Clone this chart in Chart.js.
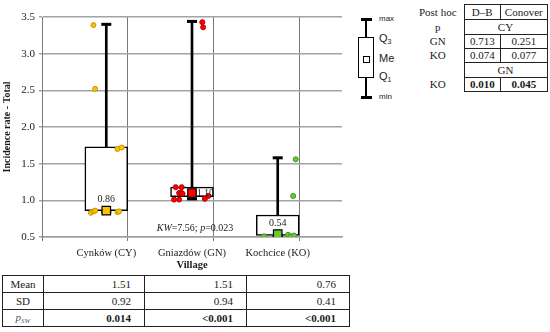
<!DOCTYPE html>
<html>
<head>
<meta charset="utf-8">
<script src="https://cdn.jsdelivr.net/npm/chart.js@4"></script>
<style>
  body { margin: 0; background: #fff; }
  #wrap { position: relative; width: 550px; height: 332px; overflow: hidden; font-family: "Liberation Serif", serif; color: #1a1a1a; }
  #chart { position: absolute; left: 0; top: 0; }
  #kw { position: absolute; left: 145px; width: 100px; top: 221px; text-align: center; font-size: 10px; line-height: 14px; }
  .lg { position: absolute; background: #000; }
  .lgt { position: absolute; left: 379px; font-family: "Liberation Sans", sans-serif; color: #222; line-height: 1; transform: translateY(-50%); }
  .lgt sub { font-size: 7px; vertical-align: -2px; }
  table { position: absolute; border-collapse: collapse; table-layout: fixed; font-size: 11px; line-height: 1; }
  td { padding: 0; white-space: nowrap; }
  #posthoc { left: 412px; top: 4px; }
  #posthoc td { text-align: center; border: 1px solid #222; }
  #posthoc td.lab { border: none; }
  #stats { left: 2px; top: 275px; }
  #stats td { border: 1px solid #222; text-align: right; padding-right: 13px; height: 16px; }
  #stats td.lab { text-align: center; padding-right: 0; }
  #stats sub { font-size: 7px; vertical-align: -2px; }
</style>
</head>
<body>
<div id="wrap">
  <canvas id="chart" width="350" height="275"></canvas>
  <div id="kw"></div>
  <div id="legendBox"></div>
  <table id="posthoc"></table>
  <table id="stats"></table>
</div>
<script>
// box plot summaries per village
const villages = ['Cynków (CY)', 'Gniazdów (GN)', 'Kochcice (KO)'];
const minVals = [0.84, 1.02, 0.51];
const q1Vals = [0.86, 1.05, 0.52];
const medVals = [0.86, 1.10, 0.54];
const q3Vals = [1.73, 1.18, 0.80];
const maxVals = [3.40, 3.44, 1.58];

// raw observations (jitter = horizontal offset from the box centre, in category units)
const cyValues = [3.39, 2.52, 1.70, 1.72, 0.83, 0.85, 0.86, 0.84, 0.85];
const cyJitter = [-0.15, -0.13, 0.13, 0.18, -0.18, -0.15, -0.13, 0.13, 0.15];
const gnValues = [3.43, 3.36, 1.18, 1.18, 1.10, 1.11, 1.09, 1.01, 1.01, 1.02, 1.06];
const gnJitter = [0.12, 0.13, -0.19, -0.12, -0.15, -0.13, -0.11, -0.21, -0.15, 0.15, 0.19];
const koValues = [1.56, 1.06, 0.51, 0.53, 0.51, 0.52];
const koJitter = [0.21, 0.18, -0.16, 0.12, 0.15, 0.19];

const yMin = 0.5, yMax = 3.5, yStep = 0.5;

// test results
const kwStat = '7.56';
const kwP = '0.023';
const meanVals = ['1.51', '1.51', '0.76'];
const sdVals = ['0.92', '0.94', '0.41'];
const pSwVals = ['0.014', '<0.001', '<0.001'];
const pairLabels = [['CY', 'GN'], ['CY', 'KO'], ['GN', 'KO']];
const dbVals = ['0.713', '0.074', '0.010'];
const conoverVals = ['0.251', '0.077', '0.045'];

// styles
const fillColors = ['#FFC000', '#FF0000', '#66CC33'];
const edgeColors = ['#C99700', '#B80000', '#3E9420'];
const labelSide = ['above', 'right', 'above'];

function jittered(values, jitter, idx) {
    return values.map((v, i) => ({ x: idx + 1 + jitter[i], y: v }));
}

const medianLabels = {
    id: 'medianLabels',
    afterDatasetsDraw(chart) {
        const { ctx, scales: { x, y } } = chart;
        ctx.save();
        ctx.fillStyle = '#1a1a1a';
        medVals.forEach((v, i) => {
            const px = x.getPixelForValue(i + 1);
            const py = y.getPixelForValue(v);
            if (labelSide[i] === 'right') {
                ctx.font = '9.5px "Liberation Serif"';
                ctx.textAlign = 'left';
                ctx.textBaseline = 'middle';
                ctx.fillText(v.toFixed(2), px + 5, py);
            } else {
                ctx.font = '10px "Liberation Serif"';
                ctx.textAlign = 'center';
                ctx.textBaseline = 'bottom';
                ctx.fillText(v.toFixed(2), px, py - 6);
            }
        });
        ctx.restore();
    }
};

const halfColor = (c, col) => (c.tick && c.tick.value % 1 !== 0 ? col : 'transparent');

new Chart(document.getElementById('chart'), {
    type: 'scatter',
    data: {
        datasets: [
            {
                label: 'median',
                data: medVals.map((v, i) => ({ x: i + 1, y: v })),
                pointStyle: 'rect',
                radius: 6,
                backgroundColor: fillColors,
                borderColor: '#000',
                borderWidth: 1.2,
                order: 0
            },
            {
                label: 'CY',
                data: jittered(cyValues, cyJitter, 0),
                radius: 2.5,
                backgroundColor: fillColors[0],
                borderColor: edgeColors[0],
                borderWidth: 1,
                order: 1
            },
            {
                label: 'GN',
                data: jittered(gnValues, gnJitter, 1),
                radius: 2.5,
                backgroundColor: fillColors[1],
                borderColor: edgeColors[1],
                borderWidth: 1,
                order: 1
            },
            {
                label: 'KO',
                data: jittered(koValues, koJitter, 2),
                radius: 2.5,
                backgroundColor: fillColors[2],
                borderColor: edgeColors[2],
                borderWidth: 1,
                order: 1
            },
            {
                label: 'caps',
                data: maxVals.map((v, i) => ({ x: i + 1, y: v }))
                    .concat(minVals.map((v, i) => ({ x: i + 1, y: v }))),
                pointStyle: 'line',
                radius: 5,
                borderColor: '#000',
                borderWidth: 3,
                order: 2
            },
            {
                type: 'bar',
                label: 'box',
                data: q1Vals.map((v, i) => ({ x: i + 1, y: [v, q3Vals[i]] })),
                backgroundColor: '#fff',
                borderColor: '#000',
                borderWidth: 1.5,
                borderSkipped: false,
                grouped: false,
                categoryPercentage: 1,
                barPercentage: 1,
                maxBarThickness: 47,
                order: 3
            },
            {
                type: 'bar',
                label: 'whisker',
                data: q3Vals.map((v, i) => ({ x: i + 1, y: [v, maxVals[i]] }))
                    .concat(minVals.map((v, i) => ({ x: i + 1, y: [v, q1Vals[i]] }))),
                backgroundColor: '#000',
                borderWidth: 0,
                grouped: false,
                categoryPercentage: 1,
                barPercentage: 1,
                maxBarThickness: 2,
                order: 4
            }
        ]
    },
    options: {
        responsive: false,
        animation: false,
        devicePixelRatio: 1,
        layout: { padding: { top: 17, right: 2, left: 0, bottom: 0 } },
        plugins: { legend: { display: false }, tooltip: { enabled: false } },
        scales: {
            x: {
                type: 'linear',
                min: 0.5,
                max: 3.5,
                afterFit: (s) => { s.height = 38; },
                ticks: {
                    stepSize: 0.5,
                    autoSkip: false,
                    maxRotation: 0,
                    minRotation: 0,
                    padding: 6,
                    color: '#1a1a1a',
                    font: { family: 'Liberation Serif', size: 10.5 },
                    callback: (v) => (Number.isInteger(v) ? villages[v - 1] : '')
                },
                grid: {
                    color: (c) => halfColor(c, '#7a7a7a'),
                    tickColor: (c) => halfColor(c, '#7a7a7a'),
                    lineWidth: 1,
                    tickLength: 4
                },
                border: { color: '#a0a0a0', width: 1.5 },
                title: {
                    display: true,
                    text: 'Village',
                    color: '#1a1a1a',
                    padding: { top: 0, bottom: 3 },
                    font: { family: 'Liberation Serif', size: 10.5, weight: 'bold' }
                }
            },
            y: {
                min: yMin,
                max: yMax,
                afterFit: (s) => { s.width = 42; },
                ticks: {
                    stepSize: yStep,
                    padding: 4,
                    color: '#1a1a1a',
                    font: { family: 'Liberation Serif', size: 11 },
                    callback: (v) => v.toFixed(1)
                },
                grid: { color: '#a3a3a3', lineWidth: 1.5, tickLength: 3 },
                border: { color: '#7a7a7a', width: 1 },
                title: {
                    display: true,
                    text: 'Incidence rate - Total',
                    color: '#1a1a1a',
                    padding: { top: 1, bottom: 0 },
                    font: { family: 'Liberation Serif', size: 10, weight: 'bold' }
                }
            }
        }
    },
    plugins: [medianLabels]
});

// KW annotation
document.querySelector('#kw').innerHTML = `<i>KW</i>=${kwStat}; <i>p</i>=${kwP}`;

// legend icon
document.querySelector('#legendBox').innerHTML = `
<div class="lg" style="left:361px;top:17.5px;width:10.5px;height:3px"></div>
<div class="lg" style="left:364.8px;top:19px;width:2px;height:18px"></div>
<div style="position:absolute;left:357.5px;top:37px;width:16px;height:41px;border:1.5px solid #000;box-sizing:border-box"></div>
<div style="position:absolute;left:363px;top:55.5px;width:5px;height:5px;border:1px solid #000"></div>
<div class="lg" style="left:364.8px;top:78px;width:2px;height:18px"></div>
<div class="lg" style="left:361px;top:95.5px;width:10.5px;height:3px"></div>
<div class="lgt" style="top:18.5px;font-size:8px">max</div>
<div class="lgt" style="top:38.5px;font-size:11px">Q<sub>3</sub></div>
<div class="lgt" style="top:58px;font-size:11px">Me</div>
<div class="lgt" style="top:77px;font-size:11px">Q<sub>1</sub></div>
<div class="lgt" style="top:96.5px;font-size:8px">min</div>`;

// post hoc table
const sig = (p) => (parseFloat(p.replace('<', '')) < 0.05 ? `<b>${p}</b>` : p);
let rows = `<colgroup><col style="width:52px"><col style="width:36.5px"><col style="width:46.5px"></colgroup>`;
rows += `<tr style="height:15px"><td class="lab">Post hoc</td><td>D–B</td><td>Conover</td></tr>`;
let lastRef = '';
pairLabels.forEach((pair, i) => {
    if (pair[0] !== lastRef) {
        rows += `<tr style="height:15px"><td class="lab">${lastRef === '' ? 'p' : ''}</td><td colspan="2">${pair[0]}</td></tr>`;
        lastRef = pair[0];
    }
    rows += `<tr style="height:14px"><td class="lab">${pair[1]}</td><td>${sig(dbVals[i])}</td><td>${sig(conoverVals[i])}</td></tr>`;
});
document.querySelector('#posthoc').innerHTML = rows;

// descriptive stats table
let st = `<colgroup><col style="width:41px"><col style="width:101px"><col style="width:102px"><col style="width:103px"></colgroup>`;
st += `<tr><td class="lab">Mean</td>${meanVals.map(v => `<td>${v}</td>`).join('')}</tr>`;
st += `<tr><td class="lab">SD</td>${sdVals.map(v => `<td>${v}</td>`).join('')}</tr>`;
st += `<tr><td class="lab" style="color:#555"><i>p<sub>SW</sub></i></td>${pSwVals.map(v => `<td>${sig(v)}</td>`).join('')}</tr>`;
document.querySelector('#stats').innerHTML = st.replace(/<(?!\/?(td|tr|b|i|sub|col|colgroup)\b)/g, '&lt;');
</script>
</body>
</html>
